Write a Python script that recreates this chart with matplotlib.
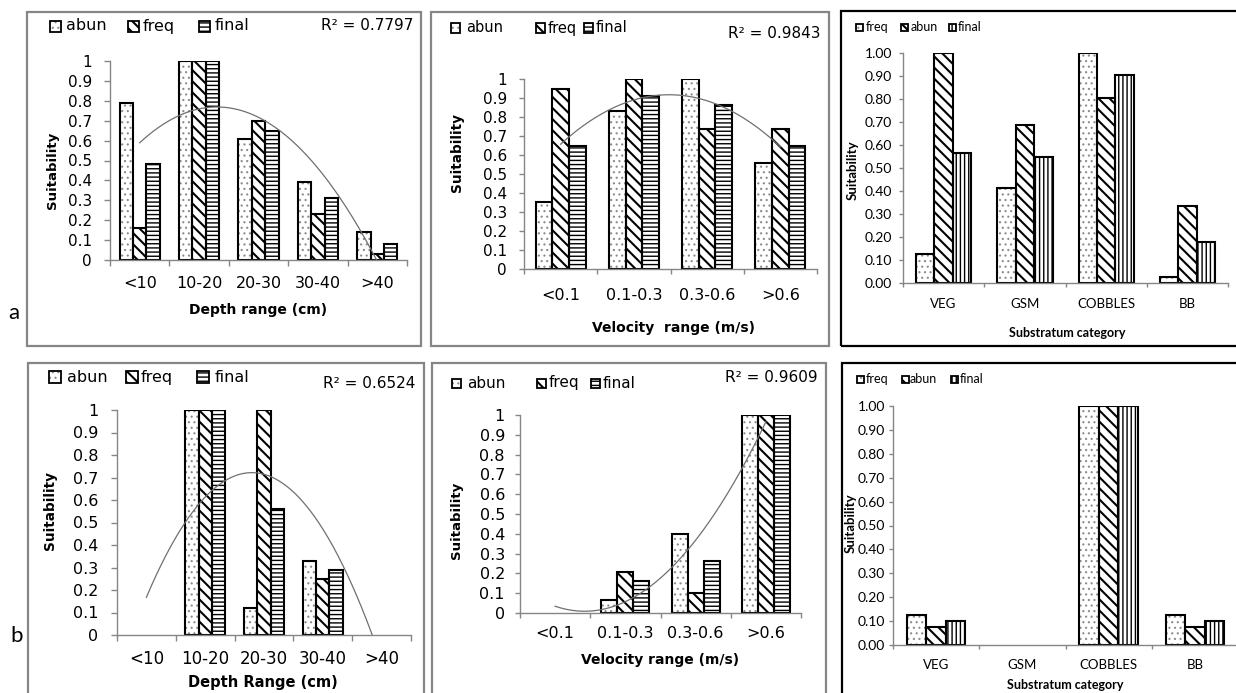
import numpy as np
import matplotlib
matplotlib.use('Agg')
import matplotlib.pyplot as plt
import matplotlib.patches as mpatches

W, H = 1236, 693

# ── Data ────────────────────────────────────────────────────────────
depth_cats = ['<10', '10-20', '20-30', '30-40', '>40']
vel_cats   = ['<0.1', '0.1-0.3', '0.3-0.6', '>0.6']
sub_cats   = ['VEG', 'GSM', 'COBBLES', 'BB']

# row a
a_depth_abun  = [0.79, 1.00, 0.61, 0.39, 0.14]
a_depth_freq  = [0.16, 1.00, 0.70, 0.23, 0.03]
a_depth_final = [0.48, 1.00, 0.65, 0.31, 0.08]

a_vel_abun  = [0.355, 0.83, 1.00, 0.56]
a_vel_freq  = [0.945, 1.00, 0.735, 0.735]
a_vel_final = [0.65, 0.91, 0.865, 0.65]

a_sub_freq  = [0.125, 0.415, 1.00, 0.025]
a_sub_abun  = [1.00, 0.685, 0.805, 0.335]
a_sub_final = [0.565, 0.55, 0.905, 0.18]

# row b
b_depth_abun  = [0, 1.00, 0.12, 0.33, 0]
b_depth_freq  = [0, 1.00, 1.00, 0.25, 0]
b_depth_final = [0, 1.00, 0.56, 0.29, 0]

b_vel_abun  = [0, 0.065, 0.40, 1.00]
b_vel_freq  = [0, 0.205, 0.10, 1.00]
b_vel_final = [0, 0.16, 0.265, 1.00]

b_sub_freq  = [0.125, 0, 1.00, 0.125]
b_sub_abun  = [0.075, 0, 1.00, 0.075]
b_sub_final = [0.10, 0, 1.00, 0.10]

r2_labels = ['R\u00b2 = 0.7797', 'R\u00b2 = 0.9843', 'R\u00b2 = 0.6524', 'R\u00b2 = 0.9609']

# ── Style ───────────────────────────────────────────────────────────
GRAY    = '#868686'
VERDANA = 'DejaVu Sans'
CALIBRI = 'Lato'
DOTS, DIAG, HORIZ, VERT = '...', '\\\\\\', '----', '||||'

# hatch colour / stroke width per pattern
HATCH_STYLE = {
    DOTS:  ('#8c8c8c', 0.8),
    DIAG:  ('black', 1.5),
    HORIZ: ('black', 1.0),
    VERT:  ('black', 1.0),
}


def fx(x):
    return x / W


def fy(y):
    return 1 - y / H


def add_frame(fig, x0, y0, x1, y1, color):
    fig.add_artist(mpatches.Rectangle(
        (fx(x0), fy(y1)), (x1 - x0) / W, (y1 - y0) / H,
        transform=fig.transFigure, fill=False, edgecolor=color, linewidth=1.6))


def add_axes(fig, x0, x1, y_top, y_bot):
    return fig.add_axes([fx(x0), fy(y_bot), (x1 - x0) / W, (y_bot - y_top) / H])


def hatched(artists, hatch):
    color, lw = HATCH_STYLE[hatch]
    for a in artists:
        a.set_hatch(hatch)
        a.set_edgecolor(color)
        a.set_linewidth(0)
        if hasattr(a, 'set_hatch_linewidth'):
            a.set_hatch_linewidth(lw)


def draw_bars(ax, n, series, hatches, group=0.68):
    x = np.arange(1, n + 1)
    bw = group / len(series)
    for k, (vals, hatch) in enumerate(zip(series, hatches)):
        xpos = x - group / 2 + bw * (k + 0.5)
        with plt.rc_context({'hatch.linewidth': HATCH_STYLE[hatch][1]}):
            fill = ax.bar(xpos, vals, bw, facecolor='white', zorder=2)
            hatched(fill, hatch)
        edge = ax.bar(xpos, vals, bw, fill=False, edgecolor='black',
                      linewidth=1.5, zorder=2.1)
        for f, e, v in zip(fill, edge, vals):
            if v == 0:
                f.set_visible(False)
                e.set_visible(False)


def trend(ax, vals):
    x = np.arange(1, len(vals) + 1)
    coef = np.polyfit(x, vals, 2)
    xs = np.linspace(1, len(vals), 200)
    ax.plot(xs, np.polyval(coef, xs), color='#707070', linewidth=0.9, zorder=3)


def style_axes(ax, cats, fmt, family, xsize, ysize, xoff, ygap, ticklen):
    n = len(cats)
    ax.set_xlim(0.5, n + 0.5)
    ax.set_ylim(0, 1)
    for s in ('top', 'right'):
        ax.spines[s].set_visible(False)
    for s in ('left', 'bottom'):
        ax.spines[s].set_color(GRAY)
        ax.spines[s].set_linewidth(1.0)
    ax.set_xticks(np.arange(0.5, n + 1))
    ax.set_xticklabels([])
    ax.set_xticks(np.arange(1, n + 1), minor=True)
    ax.set_xticklabels(cats, minor=True, fontsize=xsize, family=family)
    yt = np.round(np.arange(0, 1.01, 0.1), 1)
    ax.set_yticks(yt)
    ax.set_yticklabels([fmt(v) for v in yt], fontsize=ysize, family=family)
    ax.tick_params(axis='both', which='major', direction='out',
                   length=ticklen * 0.72, color=GRAY, width=1)
    ax.tick_params(axis='x', which='minor', length=0, pad=xoff * 0.72)
    ax.tick_params(axis='y', pad=(ygap - ticklen) * 0.72)
    for t in ax.xaxis.get_minor_ticks():
        t.label1.set_va('center')
    ax.patch.set_alpha(0)


def legend_row(fig, y, entries, sq, size, family):
    for label, hatch, xs, xt in entries:
        box = ((fx(xs), fy(y + sq / 2)), sq / W, sq / H)
        with plt.rc_context({'hatch.linewidth': HATCH_STYLE[hatch][1]}):
            fill = mpatches.Rectangle(*box, transform=fig.transFigure,
                                      facecolor='white')
            hatched([fill], hatch)
        fig.add_artist(fill)
        fig.add_artist(mpatches.Rectangle(*box, transform=fig.transFigure,
                                          fill=False, edgecolor='black',
                                          linewidth=1.3))
        fig.text(fx(xt), fy(y), label, fontsize=size, family=family,
                 va='center', ha='left')


def titles(fig, ylab_xy, xlab_xy, xlabel, family, ysize, xsize):
    fig.text(fx(ylab_xy[0]), fy(ylab_xy[1]), 'Suitability', rotation=90,
             fontsize=ysize, family=family, fontweight='bold',
             ha='center', va='center')
    fig.text(fx(xlab_xy[0]), fy(xlab_xy[1]), xlabel, fontsize=xsize,
             family=family, fontweight='bold', ha='center', va='center')


fmt_plain = lambda v: f'{v:g}'
fmt_two = lambda v: f'{v:.2f}'

fig = plt.figure(figsize=(W / 100, H / 100), dpi=100)

# ── Panel a / depth ────────────────────────────────────────────────
add_frame(fig, 27, 12, 421, 346, GRAY)
ax = add_axes(fig, 110, 407, 61, 260)
draw_bars(ax, len(depth_cats), [a_depth_abun, a_depth_freq, a_depth_final], [DOTS, DIAG, HORIZ])
trend(ax, a_depth_final)
style_axes(ax, depth_cats, fmt_plain, VERDANA, 11.5, 11, 23, 18, 6)
legend_row(fig, 26, [('abun', DOTS, 50, 66), ('freq', DIAG, 128, 143),
                     ('final', HORIZ, 199, 215)], 11, 11.5, VERDANA)
fig.text(fx(413), fy(26), r2_labels[0], fontsize=11, family=VERDANA, ha='right', va='center')
titles(fig, (52, 170), (258, 310), 'Depth range (cm)', VERDANA, 9.5, 10)

# ── Panel a / velocity ─────────────────────────────────────────────
add_frame(fig, 431, 12, 829, 346, GRAY)
ax = add_axes(fig, 524, 817, 79, 269)
draw_bars(ax, len(vel_cats), [a_vel_abun, a_vel_freq, a_vel_final], [DOTS, DIAG, HORIZ])
trend(ax, a_vel_final)
style_axes(ax, vel_cats, fmt_plain, VERDANA, 11.5, 11, 26, 17, 5)
legend_row(fig, 28, [('abun', DOTS, 451, 466), ('freq', DIAG, 536, 548),
                     ('final', HORIZ, 584, 596)], 9, 10.5, VERDANA)
fig.text(fx(820), fy(33), r2_labels[1], fontsize=11, family=VERDANA, ha='right', va='center')
titles(fig, (457, 153), (673, 328), 'Velocity  range (m/s)', VERDANA, 9.8, 10)

# ── Panel a / substratum ───────────────────────────────────────────
add_frame(fig, 841, 11, 1240, 346, 'black')
ax = add_axes(fig, 903, 1228, 53, 283)
draw_bars(ax, len(sub_cats), [a_sub_freq, a_sub_abun, a_sub_final], [DOTS, DIAG, VERT])
style_axes(ax, sub_cats, fmt_two, CALIBRI, 9.5, 10, 21, 11, 4)
legend_row(fig, 27, [('freq', DOTS, 856, 866), ('abun', DIAG, 901, 911),
                     ('final', VERT, 949, 958)], 7, 9, CALIBRI)
titles(fig, (853, 170), (1067, 333), 'Substratum category', CALIBRI, 9.5, 9)

# ── Panel b / depth ────────────────────────────────────────────────
add_frame(fig, 28, 363, 424, 700, GRAY)
ax = add_axes(fig, 117, 411, 410, 635)
draw_bars(ax, len(depth_cats), [b_depth_abun, b_depth_freq, b_depth_final], [DOTS, DIAG, HORIZ])
trend(ax, b_depth_final)
style_axes(ax, depth_cats, fmt_plain, VERDANA, 12, 11.5, 24, 19, 6)
legend_row(fig, 377, [('abun', DOTS, 49, 67), ('freq', DIAG, 126, 141),
                      ('final', HORIZ, 197, 215)], 12, 11.5, VERDANA)
fig.text(fx(415), fy(383), r2_labels[2], fontsize=11, family=VERDANA, ha='right', va='center')
titles(fig, (50, 510), (263, 683), 'Depth Range (cm)', VERDANA, 9.8, 10.5)

# ── Panel b / velocity ─────────────────────────────────────────────
add_frame(fig, 432, 363, 826, 700, GRAY)
ax = add_axes(fig, 520, 801, 415, 613)
draw_bars(ax, len(vel_cats), [b_vel_abun, b_vel_freq, b_vel_final], [DOTS, DIAG, HORIZ])
trend(ax, b_vel_final)
style_axes(ax, vel_cats, fmt_plain, VERDANA, 11.5, 11.5, 20, 15, 5)
legend_row(fig, 383, [('abun', DOTS, 452, 467), ('freq', DIAG, 537, 549),
                      ('final', HORIZ, 591, 603)], 9, 11, VERDANA)
fig.text(fx(818), fy(378), r2_labels[3], fontsize=11, family=VERDANA, ha='right', va='center')
titles(fig, (457, 520), (660, 660), 'Velocity range (m/s)', VERDANA, 9.5, 10)

# ── Panel b / substratum ───────────────────────────────────────────
add_frame(fig, 842, 363, 1240, 700, 'black')
ax = add_axes(fig, 893, 1238, 406, 645)
draw_bars(ax, len(sub_cats), [b_sub_freq, b_sub_abun, b_sub_final], [DOTS, DIAG, VERT])
style_axes(ax, sub_cats, fmt_two, CALIBRI, 9.5, 10, 20, 8, 4)
legend_row(fig, 379, [('freq', DOTS, 857, 866), ('abun', DIAG, 902, 910),
                      ('final', VERT, 951, 960)], 7, 9, CALIBRI)
titles(fig, (851, 523), (1065, 685), 'Substratum category', CALIBRI, 9.5, 9)

# row markers
fig.text(fx(14), fy(313), 'a', fontsize=16, family=CALIBRI, ha='center', va='center')
fig.text(fx(17), fy(636), 'b', fontsize=16, family=CALIBRI, ha='center', va='center')

fig.savefig('out.png', dpi=100)
